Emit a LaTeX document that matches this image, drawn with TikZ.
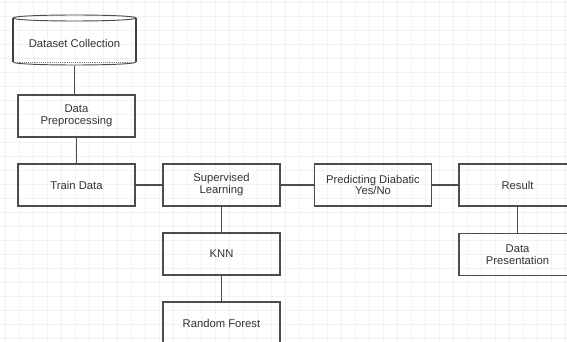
\documentclass[tikz,border=0pt]{standalone}
\usepackage{fontspec}
\setmainfont{Liberation Sans}
\usetikzlibrary{calc}

\tikzset{
  blk/.style={draw=black!70, line width=0.9pt, minimum width=3.51cm, minimum height=1.26cm,
    inner sep=0pt, align=center, text=black!80, font=\fontsize{9.6}{10.2}\selectfont},
  wire/.style={draw=black!70, line width=0.9pt},
  gridln/.style={draw=black!5, line width=0.5pt}
}

\begin{document}
\begin{tikzpicture}[x=0.03cm, y=-0.03cm]

\clip (0,0) rectangle (567,342);
\fill[white] (0,0) rectangle (567,342);
\foreach \gx in {5,19,...,565} \draw[gridln] (\gx,0) -- (\gx,342);
\foreach \gy in {2,16,...,338} \draw[gridln] (0,\gy) -- (567,\gy);

% database
\node[blk, draw=none, minimum width=3.69cm, minimum height=1.5cm] (data) at (74.5,40) {};
\node[text=black!80, font=\fontsize{9.6}{10.2}\selectfont] at ($(data)+(0,3)$) {Dataset Collection};
\draw[black!70, line width=0.8pt] (13,18) .. controls (13,14) and (136,14) .. (136,18)
  .. controls (136,22) and (13,22) .. (13,18);
\draw[black!75, line width=1.6pt] (13,18) -- (13,62) (136,18) -- (136,62);
\draw[black!70, line width=0.8pt] (13,62) .. controls (13,66) and (136,66) .. (136,62);
\draw[black!50, line width=0.6pt, densely dotted] (13,62) -- (136,62);

\node[blk] (prep) at (76.5,116) {Data\\Preprocessing};
\node[blk] (train) at (76.5,185) {Train Data};
\node[blk] (sup) at (221.5,185) {Supervised\\Learning};
\node[blk] (knn) at (221.5,254) {KNN};
\node[blk] (rf) at (221.5,323) {Random Forest};
\node[blk] (pred) at (373,185) {Predicting Diabatic\\Yes/No};
\node[blk] (res) at (517.5,185) {Result};
\node[blk] (pres) at (517.5,254.5) {Data\\Presentation};

\draw[wire] (data.south) -- (data.south |- prep.north);
\draw[wire] (prep.south) -- (train.north);
\draw[wire] (train.east) -- (sup.west);
\draw[wire] (sup.east) -- (pred.west);
\draw[wire] (pred.east) -- (res.west);
\draw[wire] (sup.south) -- (knn.north);
\draw[wire] (knn.south) -- (rf.north);
\draw[wire] (res.south) -- (pres.north);

\end{tikzpicture}
\end{document}
